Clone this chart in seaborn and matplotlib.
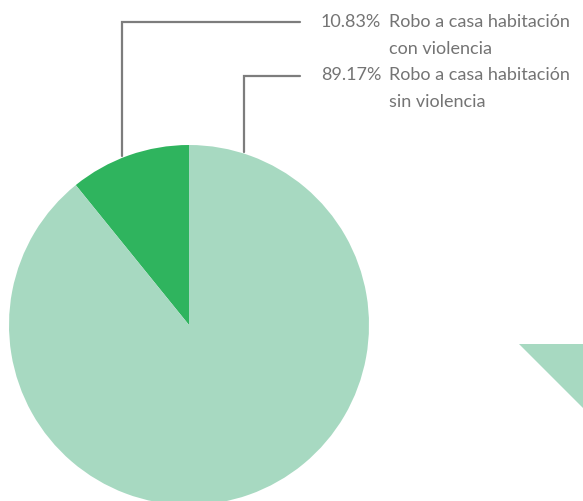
import matplotlib.pyplot as plt
import seaborn as sns

# Datos
porcentajes = [10.83, 89.17]
lineas_1 = ['Robo a casa habitación', 'Robo a casa habitación']
lineas_2 = ['con violencia', 'sin violencia']
colores = ['#2fb45e', '#a7d9c1']

# fragmento de la gráfica vecina (solo se ve una porción)
vecina_valores = [12.5, 87.5]
vecina_colores = ['#a7d9c1', 'none']

sns.set_theme(style='white')
plt.rcParams['font.family'] = ['Lato', 'DejaVu Sans']

W, H = 583, 502
fig = plt.figure(figsize=(W / 100, H / 100), dpi=100)
ax = fig.add_axes([0, 0, 1, 1])

# pastel principal (centro en píxeles 189, 326)
ax.pie(porcentajes, colors=colores, startangle=90, counterclock=True,
       center=(189, H - 326), radius=180, wedgeprops=dict(linewidth=0))

# pastel recortado a la derecha
ax.pie(vecina_valores, colors=vecina_colores, startangle=0, counterclock=False,
       center=(519, H - 345), radius=200, wedgeprops=dict(linewidth=0))

ax.set_xlim(0, W)
ax.set_ylim(0, H)
ax.set_aspect('equal')
ax.axis('off')

# líneas guía y etiquetas (x vertical, y inicio, y codo, y línea base del texto)
guias = [(122, 157, 23, 27), (244, 153, 77, 79.5)]
gris_linea = '#7d7d7d'
gris_texto = '#747474'
estilo = dict(ha='left', va='baseline', fontsize=13, color=gris_texto,
              fontweight='normal')
for (x0, y0, y1, yb), pct, l1, l2 in zip(guias, porcentajes, lineas_1, lineas_2):
    ax.plot([x0, x0, 300], [H - y0, H - y1, H - y1], color=gris_linea, lw=1.6,
            solid_joinstyle='miter')
    ax.text(321, H - yb, f'{pct:.2f}%', **estilo)
    ax.text(389, H - yb, l1, **estilo)
    ax.text(389, H - yb - 27.5, l2, **estilo)

fig.savefig('out.png', dpi=100)
